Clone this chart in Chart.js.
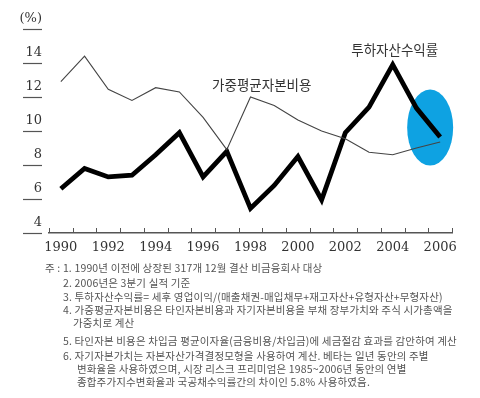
<!DOCTYPE html>
<html>
<head>
<meta charset="utf-8">
<script src="https://cdn.jsdelivr.net/npm/chart.js@4"></script>
<style>
  body { margin: 0; background: #fff; }
  #wrap { position: relative; width: 480px; height: 398px; }
  .note { position: absolute; white-space: nowrap; font-family: "Noto Sans CJK KR"; font-size: 10.5px; letter-spacing: 0.15px; line-height: 12px; color: #555; }
</style>
</head>
<body>
<div id="wrap"><canvas id="chart"></canvas></div>
<script>
var years = ["1990", "1991", "1992", "1993", "1994", "1995", "1996", "1997", "1998",
             "1999", "2000", "2001", "2002", "2003", "2004", "2005", "2006"];
// 투하자산수익률 (thick line)
var roic = [6.6, 7.8, 7.3, 7.4, 8.6, 9.9, 7.3, 8.8, 5.45, 6.8, 8.5, 5.95, 9.9, 11.4, 13.9, 11.35, 9.65];
// 가중평균자본비용 (thin line)
var wacc = [12.9, 14.4, 12.45, 11.8, 12.55, 12.3, 10.8, 8.9, 12.0, 11.5, 10.65, 10.0, 9.55, 8.75, 8.6, 9.0, 9.35];
var yMin = 4, yMax = 16, yStep = 2;

var notes = [
  { left: 45, top: 262, text: "주 : 1. 1990년 이전에 상장된 317개 12월 결산 비금융회사 대상" },
  { left: 63, top: 277, text: "2. 2006년은 3분기 실적 기준" },
  { left: 63, top: 291, text: "3. 투하자산수익률= 세후 영업이익/(매출채권-매입채무+재고자산+유형자산+무형자산)" },
  { left: 63, top: 304, text: "4. 가중평균자본비용은 타인자본비용과 자기자본비용을 부채 장부가치와 주식 시가총액을" },
  { left: 73, top: 317, text: "가중치로 계산" },
  { left: 63, top: 335, text: "5. 타인자본 비용은 차입금 평균이자율(금융비용/차입금)에 세금절감 효과를 감안하여 계산" },
  { left: 63, top: 350, text: "6. 자기자본가치는 자본자산가격결정모형을 사용하여 계산. 베타는 일년 동안의 주별" },
  { left: 77, top: 363, text: "변화율을 사용하였으며, 시장 리스크 프리미엄은 1985~2006년 동안의 연별" },
  { left: 77, top: 376, text: "종합주가지수변화율과 국공채수익률간의 차이인 5.8% 사용하였음." }
];

var wrap = document.getElementById("wrap");
notes.forEach(function (n) {
  var d = document.createElement("div");
  d.className = "note";
  d.style.left = n.left + "px";
  d.style.top = n.top + "px";
  d.textContent = n.text;
  wrap.appendChild(d);
});

// blue highlight behind the last points, series captions, short axis ticks
var decorations = {
  id: "decorations",
  beforeDatasetsDraw: function (chart) {
    var c = chart.ctx, x = chart.scales.x, y = chart.scales.y;
    c.save();
    c.fillStyle = "#0ea2e2";
    c.beginPath();
    c.ellipse(x.getPixelForValue(16) - 10, y.getPixelForValue(10.2), 23, 38, 0, 0, Math.PI * 2);
    c.fill();
    c.restore();
  },
  afterDatasetsDraw: function (chart) {
    var c = chart.ctx, x = chart.scales.x, y = chart.scales.y;
    c.save();
    c.fillStyle = "#333";
    c.font = '13.5px "Noto Sans CJK KR"';
    c.textBaseline = "middle";
    c.textAlign = "left";
    c.fillText("가중평균자본비용", x.getPixelForValue(6) + 9, y.getPixelForValue(12.7));
    c.textAlign = "center";
    c.fillText("투하자산수익률", x.getPixelForValue(14) + 2, y.getPixelForValue(14.8));

    // y: short dash under each tick label
    c.strokeStyle = "#555";
    c.lineWidth = 1.2;
    y.ticks.forEach(function (t) {
      var py = Math.round(y.getPixelForValue(t.value)) + 0.5;
      c.beginPath();
      c.moveTo(y.right - 26, py);
      c.lineTo(y.right - 7, py);
      c.stroke();
    });
    // x: small inward ticks on category boundaries
    c.lineWidth = 1;
    for (var i = 0; i <= years.length; i++) {
      var px = Math.round(x.getPixelForValue(i - 0.5)) + 0.5;
      c.beginPath();
      c.moveTo(px, x.top);
      c.lineTo(px, x.top - 5);
      c.stroke();
    }
    c.restore();
  }
};

new Chart(document.getElementById("chart"), {
  type: "line",
  data: {
    labels: years,
    datasets: [
      {
        label: "가중평균자본비용",
        data: wacc,
        borderColor: "#444",
        borderWidth: 1.1,
        pointRadius: 0,
        tension: 0
      },
      {
        label: "투하자산수익률",
        data: roic,
        borderColor: "#000",
        borderWidth: 4.8,
        borderJoinStyle: "miter",
        pointRadius: 0,
        tension: 0
      }
    ]
  },
  options: {
    responsive: true,
    maintainAspectRatio: false,
    animation: false,
    layout: { padding: { top: 29, right: 28, bottom: 140, left: 0 } },
    plugins: {
      legend: { display: false },
      tooltip: { enabled: false }
    },
    scales: {
      x: {
        offset: true,
        afterFit: function (s) { s.height = 25; },
        grid: { display: false, drawTicks: true, tickLength: 0 },
        border: { display: true, color: "#555", width: 1.5 },
        ticks: {
          autoSkip: false,
          maxRotation: 0,
          padding: 7,
          color: "#333",
          font: { family: "DejaVu Serif", size: 13 },
          callback: function (v, i) { return i % 2 === 0 ? years[i] : ""; }
        }
      },
      y: {
        min: yMin,
        max: yMax,
        afterFit: function (s) { s.width = 49; },
        grid: { display: false, drawTicks: true, tickLength: 7 },
        border: { display: false },
        ticks: {
          stepSize: yStep,
          padding: 0,
          labelOffset: -10,
          color: "#333",
          font: { family: "DejaVu Serif", size: 13 },
          callback: function (v) { return v === yMax ? "(%)" : v; }
        }
      }
    }
  },
  plugins: [decorations]
});
</script>
</body>
</html>
